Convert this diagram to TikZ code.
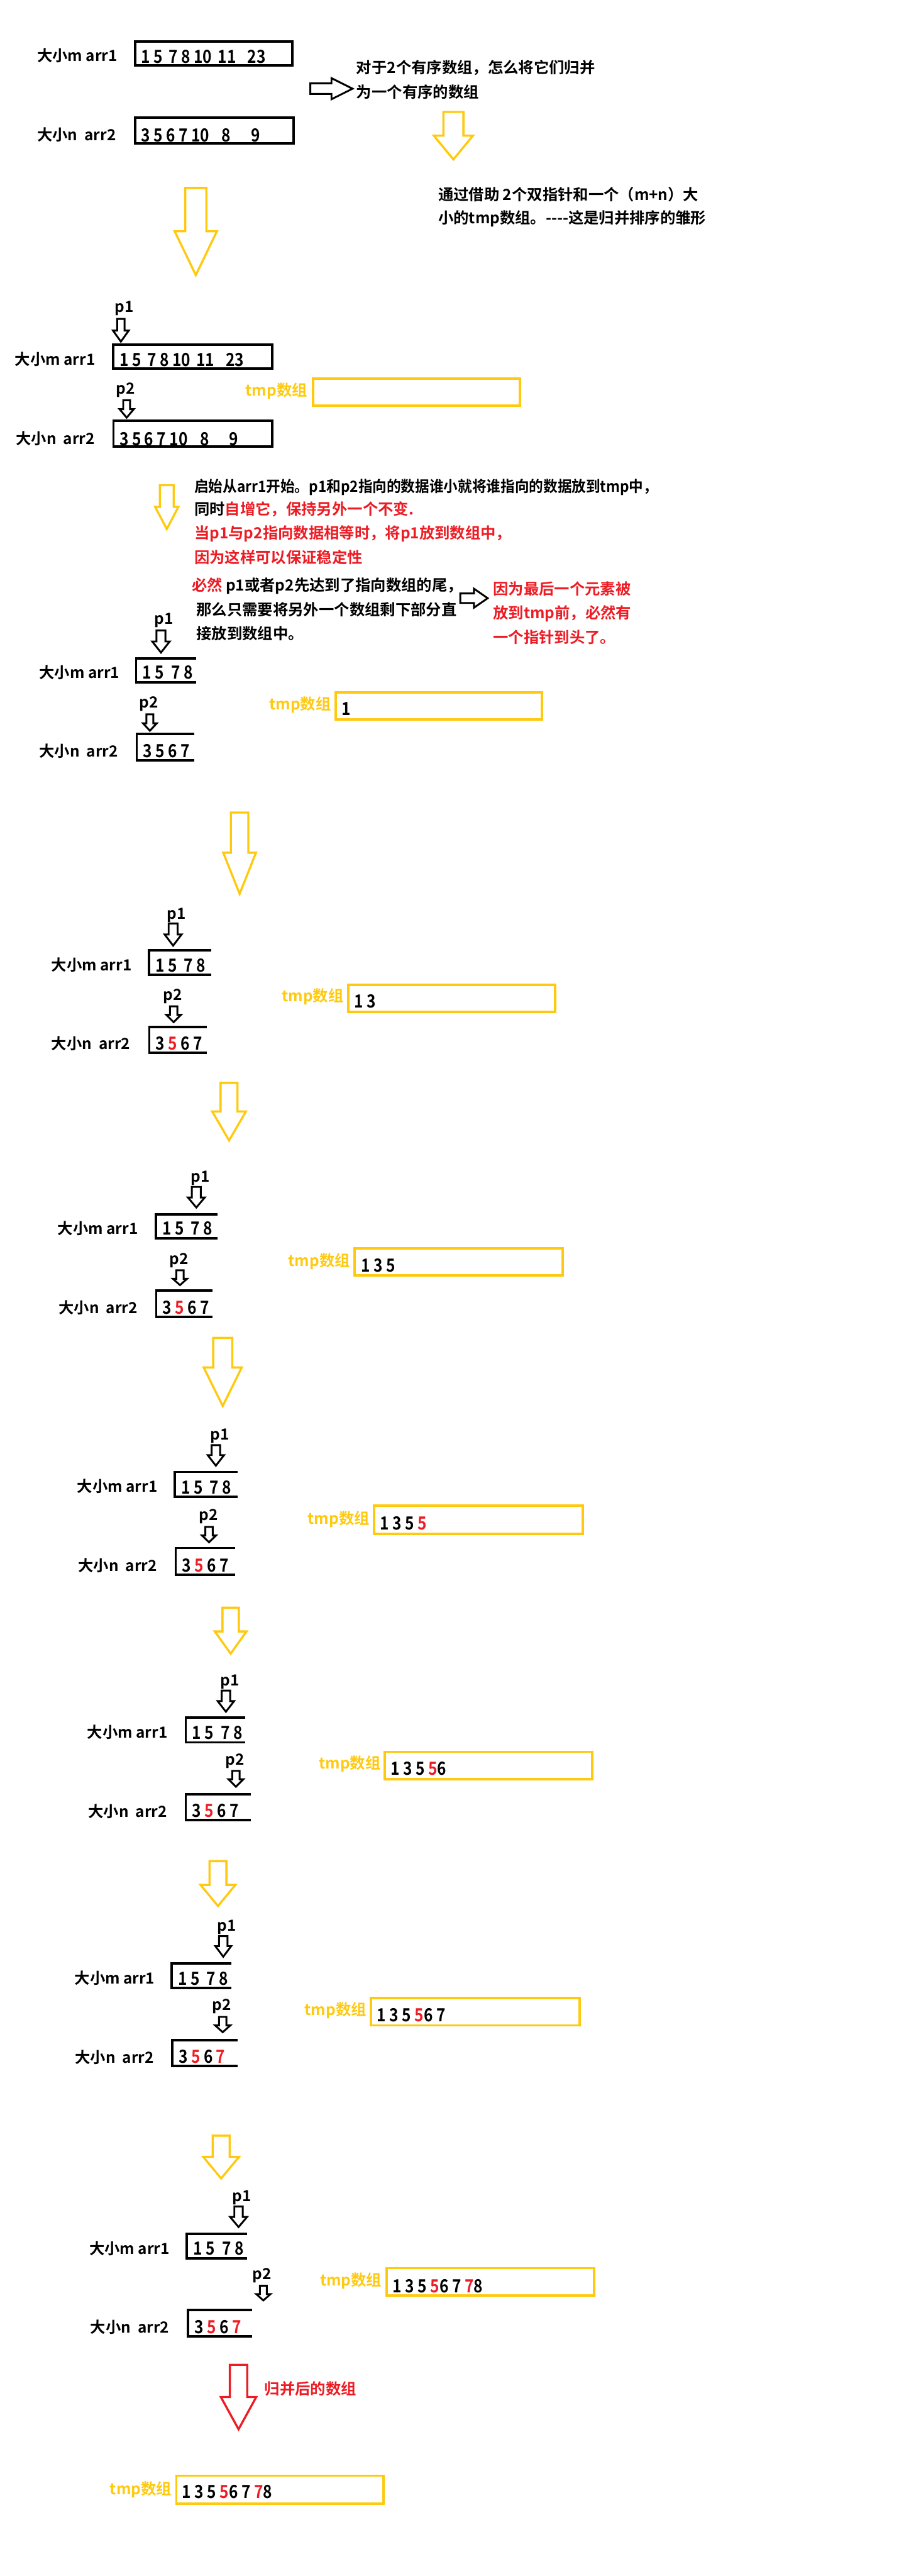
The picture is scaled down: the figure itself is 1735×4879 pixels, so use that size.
\documentclass[tikz,border=0pt]{standalone}
\usepackage{fontspec}
\setmainfont{Noto Sans CJK SC}[UprightFont=* Bold]
\usepackage{xcolor}
\usepackage{tikz}
\usetikzlibrary{positioning}
\definecolor{markYellow}{RGB}{255, 201, 14}
\definecolor{markRed}{RGB}{237, 28, 36}

\newcommand{\rednum}[1]{\textcolor{markRed}{#1}}
% narrow tall digits
\newcommand{\tall}[1]{\scalebox{0.85}[1]{\fontsize{19.5}{22}\selectfont #1}}
% hollow block arrow pointing down: style, centre x, top, head start, tip, half shaft, half head
\newcommand{\hollowdown}[7]{%
  \draw[#1] ({#2-#6},#3) -- ({#2+#6},#3) -- ({#2+#6},#4) -- ({#2+#7},#4)
    -- (#2,#5) -- ({#2-#7},#4) -- ({#2-#6},#4) -- cycle;}
% hollow block arrow pointing right: style, left x, centre y, head start, tip, half shaft, half head
\newcommand{\hollowright}[7]{%
  \draw[#1] (#2,{#3-#6}) -- (#4,{#3-#6}) -- (#4,{#3-#7}) -- (#5,#3)
    -- (#4,{#3+#7}) -- (#4,{#3+#6}) -- (#2,{#3+#6}) -- cycle;}
% array cut open on the right: name, left, top, right, bottom, digits
\newcommand{\openbox}[6]{%
  \draw[arrline] (#4,#3) -- (#2,#3) -- (#2,#5) -- (#4,#5);
  \node[txt] (#1) at ({#2+12},{#5-18}) {\tall{#6}};}

\begin{document}
\begin{tikzpicture}[
    x=0.2mm, y=-0.2mm,
    txt/.style={
        font=\fontsize{16.5}{20}\selectfont,
        inner sep=0pt,
        anchor=west
    },
    rednote/.style={txt, text=markRed},
    tmplabel/.style={txt, text=markYellow},
    arrline/.style={line width=0.9mm},
    tmpline/.style={draw=markYellow, line width=0.9mm},
    ptr/.style={black, line width=0.7mm, line join=miter},
    flow/.style={markYellow, line width=0.8mm, line join=miter},
    final/.style={markRed, line width=0.8mm, line join=miter}
]
\useasboundingbox (0,0) rectangle (1735,4879);

% Start - the two sorted arrays
\node[txt] (m0) at (70,105) {大小m arr1};
\draw[arrline] (256,79) rectangle (554,124);
\node[txt] (a0) at (267,107) {\tall{1 5 \,7 8 10 \,11\hspace{5mm}23}};
\node[txt] (n0) at (70,255) {大小n \ arr2};
\draw[arrline] (256,223) rectangle (556,272);
\node[txt] (b0) at (267,256) {\tall{3 5 6 7 10\hspace{5.5mm}8\hspace{9mm}9}};

\hollowright{ptr}{588}{168}{628}{668}{10}{20}
\node[txt] (q0) at (675,128) {对于2个有序数组，怎么将它们归并};
\node[txt] (q1) at (675,174) {为一个有序的数组};
\hollowdown{flow}{859}{212}{257}{302}{19}{37}
\node[txt] (h0) at (830,368) {通过借助 2个双指针和一个（m+n）大};
\node[txt] (h1) at (830,414) {小的tmp数组。-{}-{}-{}-这是归并排序的雏形};
\hollowdown{flow}{371}{356}{438}{521}{20}{40}

% Step 0 - pointers at the heads, tmp empty
\node[txt] (p1s1) at (217,584) {p1};
\hollowdown{ptr}{229}{604}{626}{647}{7}{15}
\draw[arrline] (214,653) rectangle (516,698);
\node[txt] (a1) at (226,682) {\tall{1 5 \,7 8 10 \,11\hspace{5mm}23}};
\node[txt] (m1) at (28,681) {大小m arr1};
\node[txt] (p2s1) at (220,739) {p2};
\hollowdown{ptr}{240}{758}{775}{791}{6.5}{13.5}
\draw[arrline] (215,797) rectangle (516,846);
\node[txt] (b1) at (226,831) {\tall{3 5 6 7 10\hspace{5.5mm}8\hspace{9mm}9}};
\node[txt] (n1) at (30,831) {大小n \ arr2};
\node[tmplabel] (t1) at (465,740) {tmp数组};
\draw[tmpline] (593,717) rectangle (985,768);

% Rules
\hollowdown{flow}{316}{919}{960}{1002}{13}{22}
\node[txt] (s1) at (368,923) {\scalebox{0.93}[1]{启始从arr1开始。p1和p2指向的数据谁小就将谁指向的数据放到tmp中，}};
\node[txt] (s2) at (368,965) {同时\textcolor{markRed}{自增它，保持另外一个不变.}};
\node[rednote] (s3) at (368,1011) {当p1与p2指向数据相等时，将p1放到数组中，};
\node[rednote] (s4) at (368,1056) {因为这样可以保证稳定性};
\node[txt] (s5) at (363,1110) {\textcolor{markRed}{必然} p1或者p2先达到了指向数组的尾，};
\node[txt] (s6) at (372,1155) {那么只需要将另外一个数组剩下部分直};
\node[txt] (s7) at (372,1200) {接放到数组中。};
\hollowright{ptr}{872}{1133}{898}{924}{9}{18}
\node[rednote] (r1) at (934,1115) {因为最后一个元素被};
\node[rednote] (r2) at (934,1162) {放到tmp前，必然有};
\node[rednote] (r3) at (934,1207) {一个指针到头了。};

% Step 1
\node[txt] (p1s2) at (292,1175) {p1};
\hollowdown{ptr}{305}{1194}{1215}{1236}{8.5}{16.5}
\openbox{a2}{258}{1247}{372}{1292}{1 5 \ 7 8}
\node[txt] (m2) at (74,1274) {大小m arr1};
\node[txt] (p2s2) at (264,1333) {p2};
\hollowdown{ptr}{284}{1353}{1370}{1384}{6.5}{13}
\openbox{b2}{259}{1390}{368}{1440}{3 5 6 7}
\node[txt] (n2) at (74,1423) {大小n \ arr2};
\node[tmplabel] (t2) at (510,1335) {tmp数组};
\draw[tmpline] (636,1311) rectangle (1027,1363);
\node[txt] (v2) at (647,1343) {\tall{1}};

% Step 2
\hollowdown{flow}{454}{1539}{1615}{1693}{16.5}{31}
\node[txt] (p1s3) at (316,1733) {p1};
\hollowdown{ptr}{328}{1749}{1770}{1791}{8.5}{16}
\openbox{a3}{282}{1800}{400}{1846}{1 5 \ 7 8}
\node[txt] (m3) at (97,1827) {大小m arr1};
\node[txt] (p2s3) at (309,1887) {p2};
\hollowdown{ptr}{329}{1906}{1922}{1936}{7}{14}
\openbox{b3}{283}{1945}{392}{1994}{3 \rednum{5} 6 7}
\node[txt] (n3) at (97,1977) {大小n \ arr2};
\node[tmplabel] (t3) at (534,1888) {tmp数组};
\draw[tmpline] (660,1865) rectangle (1052,1917);
\node[txt] (v3) at (671,1896) {\tall{1 3}};

% Step 3
\hollowdown{flow}{434}{2051}{2105}{2160}{16}{32}
\node[txt] (p1s4) at (361,2232) {p1};
\hollowdown{ptr}{372}{2248}{2268}{2287}{8.5}{16}
\openbox{a4}{295}{2300}{412}{2345}{1 5 \ 7 8}
\node[txt] (m4) at (109,2327) {大小m arr1};
\node[txt] (p2s4) at (321,2387) {p2};
\hollowdown{ptr}{341}{2406}{2422}{2434}{7}{13.5}
\openbox{b4}{296}{2444}{403}{2494}{3 \rednum{5} 6 7}
\node[txt] (n4) at (111,2477) {大小n \ arr2};
\node[tmplabel] (t4) at (546,2389) {tmp数组};
\draw[tmpline] (672,2364) rectangle (1066,2416);
\node[txt] (v4) at (684,2397) {\tall{1 3 5}};

% Step 4
\hollowdown{flow}{422}{2534}{2590}{2663}{18}{36}
\node[txt] (p1s5) at (398,2720) {p1};
\hollowdown{ptr}{409}{2737}{2756}{2776}{8}{15.5}
\openbox{a5}{331}{2788}{450}{2835}{1 5 \ 7 8}
\node[txt] (m5) at (146,2815) {大小m arr1};
\node[txt] (p2s5) at (377,2872) {p2};
\hollowdown{ptr}{396}{2892}{2908}{2921}{7}{13.5}
\openbox{b5}{333}{2932}{446}{2983}{3 \rednum{5} 6 7}
\node[txt] (n5) at (148,2965) {大小n \ arr2};
\node[tmplabel] (t5) at (583,2877) {tmp数组};
\draw[tmpline] (709,2852) rectangle (1104,2905);
\node[txt] (v5) at (720,2885) {\tall{1 3 5 \rednum{5}}};

% Step 5
\hollowdown{flow}{437}{3045}{3090}{3132}{15.5}{30}
\node[txt] (p1s6) at (417,3185) {p1};
\hollowdown{ptr}{428}{3202}{3222}{3242}{8}{15.5}
\openbox{a6}{352}{3253}{465}{3300}{1 5 \ 7 8}
\node[txt] (m6) at (165,3281) {大小m arr1};
\node[txt] (p2s6) at (427,3335) {p2};
\hollowdown{ptr}{447}{3354}{3370}{3384}{7}{14}
\openbox{b6}{352}{3398}{475}{3447}{3 \rednum{5} 6 7}
\node[txt] (n6) at (167,3431) {大小n \ arr2};
\node[tmplabel] (t6) at (604,3341) {tmp数组};
\draw[tmpline] (729,3318) rectangle (1122,3370);
\node[txt] (v6) at (740,3350) {\tall{1 3 5 \rednum{5}6}};

% Step 6
\hollowdown{flow}{413}{3525}{3570}{3610}{16}{33}
\node[txt] (p1s7) at (411,3650) {p1};
\hollowdown{ptr}{423}{3667}{3686}{3706}{8}{15}
\openbox{a7}{325}{3719}{438}{3765}{1 5 \ 7 8}
\node[txt] (m7) at (141,3746) {大小m arr1};
\node[txt] (p2s7) at (402,3800) {p2};
\hollowdown{ptr}{422}{3820}{3836}{3849}{7}{14.5}
\openbox{b7}{326}{3864}{450}{3913}{3 \rednum{5} 6 \rednum{7}}
\node[txt] (n7) at (142,3896) {大小n \ arr2};
\node[tmplabel] (t7) at (577,3808) {tmp数组};
\draw[tmpline] (703,3784) rectangle (1098,3836);
\node[txt] (v7) at (714,3817) {\tall{1 3 5 \rednum{5}6 7}};

% Step 7
\hollowdown{flow}{419}{4045}{4085}{4126}{16}{34}
\node[txt] (p1s8) at (440,4162) {p1};
\hollowdown{ptr}{452}{4179}{4199}{4218}{8}{16}
\openbox{a8}{354}{4231}{468}{4277}{1 5 \ 7 8}
\node[txt] (m8) at (169,4259) {大小m arr1};
\node[txt] (p2s8) at (478,4310) {p2};
\hollowdown{ptr}{499}{4329}{4345}{4357}{6.5}{13.5}
\openbox{b8}{356}{4375}{478}{4425}{3 \rednum{5} 6 \rednum{7}}
\node[txt] (n8) at (171,4408) {大小n \ arr2};
\node[tmplabel] (t8) at (606,4320) {tmp数组};
\draw[tmpline] (733,4296) rectangle (1126,4348);
\node[txt] (v8) at (744,4330) {\tall{1 3 5 \rednum{5}6 7 \rednum{7}8}};

% Result
\hollowdown{final}{452}{4479}{4540}{4601}{16.5}{33.5}
\node[rednote] (done) at (501,4524) {归并后的数组};
\node[tmplabel] (t9) at (208,4715) {tmp数组};
\draw[tmpline] (334,4689) rectangle (727,4742);
\node[txt] (v9) at (345,4720) {\tall{1 3 5 \rednum{5}6 7 \rednum{7}8}};

\end{tikzpicture}
\end{document}
